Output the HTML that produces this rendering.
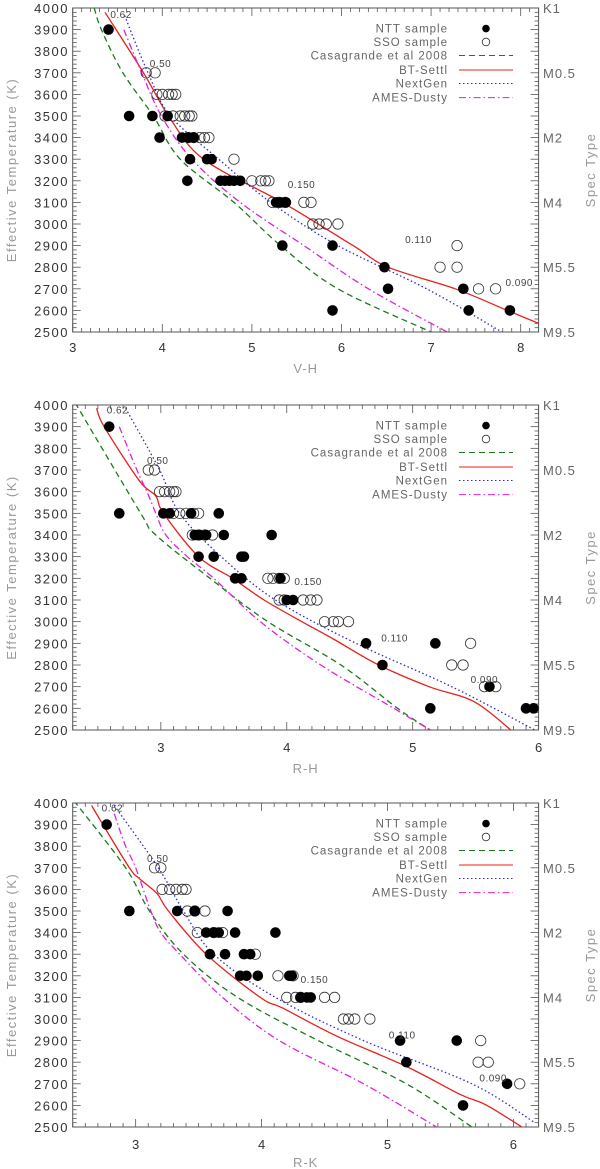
<!DOCTYPE html>
<html><head><meta charset="utf-8"><style>
html,body{margin:0;padding:0;background:#fff;}
svg{display:block;font-family:"Liberation Sans",sans-serif;}
</style></head><body>
<svg id="c" width="600" height="1169" viewBox="0 0 600 1169"></svg>
<script>
// ---------- data ----------
const yTicks=[2500,2600,2700,2800,2900,3000,3100,3200,3300,3400,3500,3600,3700,3800,3900,4000];
const specTemps=[4000,3700,3400,3100,2800,2500];
const specLabels=["K1","M0.5","M2","M4","M5.5","M9.5"];
const legendLabels=["NTT sample","SSO sample","Casagrande et al 2008","BT-Settl","NextGen","AMES-Dusty"];
const massLabels=["0.62","0.50","0.150","0.110","0.090"];

// Panel 1: V-H
const p1Ticks=[3,4,5,6,7,8];
const p1NttX=[3.40,3.63,3.89,4.06,3.97,4.22,4.29,4.35,4.31,4.28,4.50,4.55,4.65,4.70,4.75,4.80,4.87,5.27,5.32,5.38,5.34,5.90,5.90,6.48,6.52,7.36,7.42,7.88];
const p1NttT=[3900,3500,3500,3500,3400,3400,3400,3400,3300,3200,3300,3300,3200,3200,3200,3200,3200,3100,3100,3100,2900,2900,2600,2800,2700,2700,2600,2600];
const p1SsoX=[3.82,3.92,3.94,4.00,4.07,4.11,4.15,4.03,4.12,4.20,4.25,4.30,4.33,4.29,4.35,4.42,4.47,4.52,4.80,5.00,5.10,5.15,5.19,5.23,5.30,5.37,5.58,5.66,5.68,5.75,5.83,5.96,7.29,7.10,7.29,7.53,7.72];
const p1SsoT=[3700,3700,3600,3600,3600,3600,3600,3500,3500,3500,3500,3500,3500,3400,3400,3400,3400,3400,3300,3200,3200,3200,3200,3100,3100,3100,3100,3100,3000,3000,3000,3000,2900,2800,2800,2700,2700];
const p1CasX=[3.24,3.32,3.56,3.90,4.20,4.80,5.32,5.96,7.00];
const p1CasT=[4000,3900,3700,3500,3300,3100,2900,2700,2500];
const p1BtX=[3.36,3.79,4.07,4.46,5.34,6.13,6.52,7.27,7.85,8.20];
const p1BtT=[3980,3700,3500,3300,3100,2900,2800,2700,2600,2540];
const p1NgX=[3.58,3.84,4.09,4.63,5.21,5.96,6.95,7.79];
const p1NgT=[3965,3700,3500,3300,3100,2900,2700,2500];
const p1AmX=[3.57,3.77,3.99,4.33,4.87,5.58,6.30,7.18];
const p1AmT=[3900,3700,3500,3300,3100,2900,2700,2500];
const p1MassX=[3.42,3.86,5.40,6.71,7.83];
const p1MassT=[3972,3745,3185,2930,2732];

// Panel 2: R-H
const p2Ticks=[3,4,5,6];
const p2NttX=[2.59,2.67,3.02,3.07,3.24,3.46,3.27,3.31,3.36,3.50,3.88,3.30,3.42,3.64,3.66,3.59,3.64,3.95,4.00,4.05,4.63,5.18,4.76,5.61,5.14,5.90,5.96];
const p2NttT=[3900,3500,3500,3500,3500,3500,3400,3400,3400,3400,3400,3300,3300,3300,3300,3200,3200,3200,3100,3100,2900,2900,2800,2700,2600,2600,2600];
const p2SsoX=[2.90,2.95,2.99,3.03,3.07,3.10,3.12,3.10,3.15,3.20,3.26,3.30,3.25,3.30,3.35,3.41,3.85,3.89,3.94,3.98,3.94,3.98,4.13,4.19,4.24,4.30,4.37,4.41,4.49,5.46,5.31,5.40,5.57,5.66];
const p2SsoT=[3700,3700,3600,3600,3600,3600,3600,3500,3500,3500,3500,3500,3400,3400,3400,3400,3200,3200,3200,3200,3100,3100,3100,3100,3100,3000,3000,3000,3000,2900,2800,2800,2700,2700];
const p2CasX=[2.32,2.84,2.96,3.39,3.85,4.43,4.88,5.14];
const p2CasT=[4010,3500,3400,3200,3000,2800,2600,2500];
const p2BtX=[2.49,2.55,2.83,2.96,3.02,3.30,3.57,3.82,4.12,4.37,4.73,5.13,5.49,5.80];
const p2BtT=[3985,3900,3650,3580,3500,3300,3200,3100,3000,2920,2800,2700,2630,2490];
const p2NgX=[2.72,2.99,3.15,3.48,3.91,4.55,5.31,5.97];
const p2NgT=[3985,3700,3500,3300,3100,2900,2700,2500];
const p2AmX=[2.67,2.81,2.89,2.96,3.04,3.21,3.42,3.79,4.27,4.85,5.14];
const p2AmT=[3900,3700,3600,3500,3400,3300,3200,3000,2800,2600,2500];
const p2MassX=[2.57,2.89,4.06,4.75,5.46];
const p2MassT=[3980,3747,3187,2927,2736];

// Panel 3: R-K
const p3Ticks=[3,4,5,6];
const p3NttX=[2.77,2.95,3.33,3.47,3.73,3.56,3.62,3.66,3.79,4.11,3.59,3.71,3.86,3.91,3.83,3.88,3.97,4.22,4.24,4.31,4.36,4.39,5.10,5.55,5.15,5.95,5.60];
const p3NttT=[3900,3500,3500,3500,3500,3400,3400,3400,3400,3400,3300,3300,3300,3300,3200,3200,3200,3200,3200,3100,3100,3100,2900,2900,2800,2700,2600];
const p3SsoX=[3.15,3.20,3.21,3.27,3.32,3.37,3.40,3.41,3.47,3.55,3.49,3.62,3.69,3.95,4.13,4.25,4.20,4.27,4.31,4.50,4.58,4.65,4.69,4.74,4.86,5.74,5.72,5.80,6.05];
const p3SsoT=[3700,3700,3600,3600,3600,3600,3600,3500,3500,3500,3400,3400,3400,3300,3200,3200,3100,3100,3100,3100,3100,3000,3000,3000,3000,2900,2800,2800,2700];
const p3CasX=[2.51,2.92,3.11,3.38,3.81,4.45,5.15,5.67];
const p3CasT=[4010,3700,3500,3300,3100,2900,2700,2500];
const p3BtX=[2.65,2.74,2.95,3.03,3.17,3.26,3.56,3.99,4.17,4.60,5.15,5.58,5.79,6.12];
const p3BtT=[3988,3900,3700,3650,3580,3500,3300,3100,3050,2920,2780,2650,2600,2480];
const p3NgX=[2.83,3.18,3.38,3.62,4.11,4.81,5.67,6.17];
const p3NgT=[3988,3700,3500,3300,3100,2900,2700,2520];
const p3AmX=[2.83,2.92,3.00,3.12,3.20,3.35,3.69,4.14,4.81,5.39];
const p3AmT=[3950,3800,3700,3500,3400,3300,3100,2900,2700,2500];
const p3MassX=[2.73,3.09,4.31,5.01,5.73];
const p3MassT=[3980,3746,3185,2928,2730];

// ---------- drawing ----------
const NS="http://www.w3.org/2000/svg";
const svg=document.getElementById('c');
function mk(tag,attrs,parent){const e=document.createElementNS(NS,tag);for(const k in attrs)e.setAttribute(k,attrs[k]);(parent||svg).appendChild(e);return e;}
const L=72.7,R=538.6;

function smoothPath(pts){
  if(pts.length<3) return pts.map((p,i)=>(i?'L':'M')+p[0].toFixed(1)+','+p[1].toFixed(1)).join(' ');
  let d='M'+pts[0][0].toFixed(1)+','+pts[0][1].toFixed(1);
  for(let i=0;i<pts.length-1;i++){
    const p0=pts[i-1]||pts[i],p1=pts[i],p2=pts[i+1],p3=pts[i+2]||pts[i+1];
    const c1x=p1[0]+(p2[0]-p0[0])/6,c1y=p1[1]+(p2[1]-p0[1])/6;
    const c2x=p2[0]-(p3[0]-p1[0])/6,c2y=p2[1]-(p3[1]-p1[1])/6;
    d+=` C${c1x.toFixed(1)},${c1y.toFixed(1)} ${c2x.toFixed(1)},${c2y.toFixed(1)} ${p2[0].toFixed(1)},${p2[1].toFixed(1)}`;
  }
  return d;
}

function panel(idx,top,bot,xmin,xmax,ticks,title,nttX,nttT,ssoX,ssoT,casX,casT,btX,btT,ngX,ngT,amX,amT,mX,mT,tickY,titleY){
  const g=mk('g',{});
  
  
  const sx=v=>L+(v-xmin)/(xmax-xmin)*(R-L);
  const sy=t=>bot-(t-2500)/1500*(bot-top);
  const cid='clip'+idx;
  const cp=mk('clipPath',{id:cid},g);mk('rect',{x:L,y:top,width:R-L,height:bot-top},cp);
  const fr=mk('rect',{x:L,y:top,width:R-L,height:bot-top,fill:'none',stroke:'#555','stroke-width':1},g);
  
  
  for(let v=Math.ceil(xmin*10)/10;v<=xmax+1e-9;v+=0.1){
    const x=sx(v);const major=Math.abs(v-Math.round(v))<1e-6;const len=major?8:4;
    mk('line',{x1:x,y1:bot,x2:x,y2:bot-len,stroke:'#555','stroke-width':0.8},g);
    mk('line',{x1:x,y1:top,x2:x,y2:top+len,stroke:'#555','stroke-width':0.8},g);
  }
  ticks.forEach(v=>{
    const t=mk('text',{x:sx(v),y:tickY,'text-anchor':'middle','font-size':13,fill:'#333'},g);
    t.textContent=v;
    
    
  });
  const xt=mk('text',{x:(L+R)/2,y:titleY,'text-anchor':'middle','font-size':13,fill:'#999','letter-spacing':1},g);
  xt.textContent=title;
  
  
  for(let t=2500;t<=4000;t+=20){
    const y=sy(t);const major=t%100===0;const len=major?8:4;
    mk('line',{x1:L,y1:y,x2:L+len,y2:y,stroke:'#555','stroke-width':0.8},g);
    mk('line',{x1:R,y1:y,x2:R-len,y2:y,stroke:'#555','stroke-width':0.8},g);
  }
  yTicks.forEach(t=>{
    const e=mk('text',{x:69,y:sy(t)+5,'text-anchor':'end','font-size':13,fill:'#333','letter-spacing':1.5},g);
    e.textContent=t;
    
    
  });
  specTemps.forEach((t,i)=>{
    const e=mk('text',{x:543,y:sy(t)+5,'font-size':13,fill:'#666','letter-spacing':1},g);
    e.textContent=specLabels[i];
    
    
  });
  const cy=(top+bot)/2;
  const yt=mk('text',{x:0,y:0,transform:`translate(16,${cy}) rotate(-90)`,'text-anchor':'middle','font-size':13,fill:'#999','letter-spacing':1.5},g);
  yt.textContent='Effective Temperature (K)';
  
  
  const st=mk('text',{x:0,y:0,transform:`translate(595,${cy}) rotate(-90)`,'text-anchor':'middle','font-size':13,fill:'#999','letter-spacing':1.5},g);
  st.textContent='Spec Type';
  
  
  const cg=mk('g',{'clip-path':`url(#${cid})`},g);
  function curve(xs,ts,color,dash,name){
    const pts=xs.map((v,i)=>[sx(v),sy(ts[i])]);
    const p=mk('path',{d:smoothPath(pts),fill:'none',stroke:color,'stroke-width':1.3,'stroke-dasharray':dash},cg);
    
    
  }
  curve(casX,casT,'#1a7a1a','6,4','casagrande-curve');
  curve(btX,btT,'#e8201c','none','bt-settl-curve');
  curve(ngX,ngT,'#2a2ad0','1.5,2.5','nextgen-curve');
  curve(amX,amT,'#e020e0','7,3,1.5,3','ames-dusty-curve');
  ssoX.forEach((v,i)=>{
    const c=mk('circle',{cx:sx(v),cy:sy(ssoT[i]),r:5.2,fill:'none',stroke:'#333','stroke-width':0.8},cg);
    
    
  });
  nttX.forEach((v,i)=>{
    const c=mk('circle',{cx:sx(v),cy:sy(nttT[i]),r:5.3,fill:'#000'},cg);
    
    
  });
  mX.forEach((v,i)=>{
    const e=mk('text',{x:sx(v),y:sy(mT[i])+4,'font-size':10,fill:'#444','letter-spacing':0.5},g);
    e.textContent=massLabels[i];
    
    
  });
  const lg=mk('g',{},g);
  
  
  const offs=[20.6,34,47.5,62,75.5,89.6];
  legendLabels.forEach((s,i)=>{
    const y=top+offs[i];
    const e=mk('text',{x:448,y:y+4,'text-anchor':'end','font-size':11.5,fill:'#666','letter-spacing':1},lg);
    e.textContent=s;
    
    
  });
  mk('circle',{cx:486,cy:top+offs[0],r:3.8,fill:'#000'},lg);
  mk('circle',{cx:486,cy:top+offs[1],r:3.8,fill:'none',stroke:'#333','stroke-width':0.8},lg);
  const ls=[['#1a7a1a','6,4'],['#e8201c','none'],['#2a2ad0','1.5,2.5'],['#e020e0','7,3,1.5,3']];
  ls.forEach((s,i)=>{const y=top+offs[i+2];mk('line',{x1:459,y1:y,x2:513,y2:y,stroke:s[0],'stroke-width':1,'stroke-dasharray':s[1]},lg);});
}
panel(1,8,332,3,8.2,p1Ticks,'V-H',p1NttX,p1NttT,p1SsoX,p1SsoT,p1CasX,p1CasT,p1BtX,p1BtT,p1NgX,p1NgT,p1AmX,p1AmT,p1MassX,p1MassT,352,373);
panel(2,405,730,2.3,6,p2Ticks,'R-H',p2NttX,p2NttT,p2SsoX,p2SsoT,p2CasX,p2CasT,p2BtX,p2BtT,p2NgX,p2NgT,p2AmX,p2AmT,p2MassX,p2MassT,752,773);
panel(3,803,1127,2.5,6.2,p3Ticks,'R-K',p3NttX,p3NttT,p3SsoX,p3SsoT,p3CasX,p3CasT,p3BtX,p3BtT,p3NgX,p3NgT,p3AmX,p3AmT,p3MassX,p3MassT,1149,1167);
</script>
</body></html>
